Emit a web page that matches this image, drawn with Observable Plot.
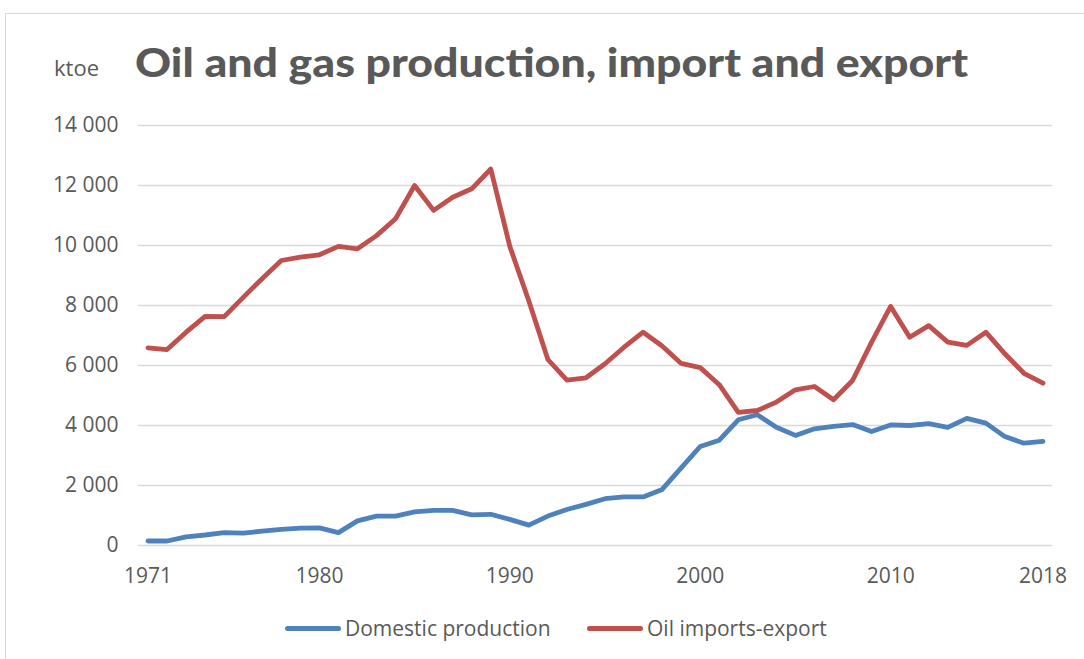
<!DOCTYPE html>
<html>
<head>
<meta charset="utf-8">
<script src="https://cdn.jsdelivr.net/npm/d3@7"></script>
<script src="https://cdn.jsdelivr.net/npm/@observablehq/plot@0.6"></script>
<style>
  html, body { margin: 0; padding: 0; background: #fff; width: 1084px; height: 659px; overflow: hidden; }
  #frame { position: absolute; left: 5px; top: 13px; width: 1100px; height: 700px; border-left: 1.5px solid #d9d9d9; border-top: 1.5px solid #d9d9d9; }
  #title { position: absolute; left: 135px; top: 38px; font-family: Lato, "Open Sans", sans-serif; font-weight: 900; font-size: 40px; line-height: 1.2; color: #595959; white-space: nowrap; transform-origin: 0 0; }
  #unit { position: absolute; left: 54px; top: 52px; font-family: "Open Sans", sans-serif; font-size: 22px; color: #595959; }
  #chart { position: absolute; left: 0; top: 0; }
  #legend { position: absolute; top: 614px; left: 0; width: 1084px; font-family: "Open Sans", sans-serif; font-size: 21px; color: #595959; }
  .item { position: absolute; display: flex; align-items: center; white-space: nowrap; }
  .swatch { width: 56px; height: 5px; border-radius: 3px; margin-right: 4px; }
</style>
</head>
<body>
<div id="frame"></div>
<div id="unit">ktoe</div>
<div id="title">Oil and gas production, import and export</div>
<div id="chart"></div>
<div id="legend"></div>
<script>
const years = [1971,1972,1973,1974,1975,1976,1977,1978,1979,1980,
  1981,1982,1983,1984,1985,1986,1987,1988,1989,1990,
  1991,1992,1993,1994,1995,1996,1997,1998,1999,2000,
  2001,2002,2003,2004,2005,2006,2007,2008,2009,2010,
  2011,2012,2013,2014,2015,2016,2017,2018];
const domesticProduction = [150,150,290,350,430,410,480,540,580,590,
  430,820,980,980,1120,1170,1170,1020,1040,870,
  680,980,1200,1370,1560,1620,1620,1870,2590,3300,
  3510,4190,4360,3940,3670,3890,3970,4030,3800,4020,
  4000,4060,3940,4240,4080,3630,3410,3470];
const oilImportsExport = [6590,6530,7110,7640,7630,8270,8900,9500,9610,9690,
  9970,9890,10330,10890,12000,11170,11610,11890,12550,9970,
  8150,6200,5510,5590,6060,6610,7110,6650,6070,5930,
  5360,4440,4500,4780,5190,5300,4860,5500,6780,7970,
  6940,7330,6780,6670,7110,6390,5740,5410];
const seriesNames = ["Domestic production", "Oil imports-export"];
const seriesColors = ["#4f81bd", "#c0504d"];
const xTicks = [1971, 1980, 1990, 2000, 2010, 2018];
const yTicks = [0, 2000, 4000, 6000, 8000, 10000, 12000, 14000];

const rows = [];
years.forEach((y, i) => {
  rows.push({year: y, value: domesticProduction[i], series: seriesNames[0]});
  rows.push({year: y, value: oilImportsExport[i], series: seriesNames[1]});
});

const fmt = d => d3.format(",")(d).replace(/,/g, " ");

const plot = Plot.plot({
  width: 1084,
  height: 600,
  marginLeft: 138,
  marginRight: 32,
  marginTop: 125,
  marginBottom: 55,
  style: { fontFamily: "'Open Sans', sans-serif", fontSize: "21px", color: "#595959", background: "transparent" },
  x: { domain: [1970.5, 2018.5], ticks: xTicks, tickFormat: d => String(d), tickSize: 0, tickPadding: 23, label: null },
  y: { domain: [0, 14000], ticks: yTicks, tickFormat: fmt, tickSize: 0, tickPadding: 20, label: null },
  color: { domain: seriesNames, range: seriesColors },
  marks: [
    Plot.ruleY(yTicks, { stroke: "#d9d9d9", strokeWidth: 1.5, strokeOpacity: 1 }),
    Plot.line(rows, { x: "year", y: "value", z: "series", stroke: "series", strokeWidth: 4.8, strokeLinecap: "round", strokeLinejoin: "round" })
  ]
});
document.getElementById("chart").appendChild(plot);

// stretch title horizontally to reference width (condensed face not available)
const title = document.getElementById("title");
const tw = title.getBoundingClientRect().width;
title.style.transform = `scaleX(${833 / tw})`;

const legend = document.getElementById("legend");
const legendX = [285, 587];
seriesNames.forEach((name, i) => {
  const it = document.createElement("div");
  it.className = "item";
  it.style.left = legendX[i] + "px";
  it.innerHTML = `<div class="swatch" style="background:${seriesColors[i]}"></div><span>${name}</span>`;
  legend.appendChild(it);
});
</script>
</body>
</html>
